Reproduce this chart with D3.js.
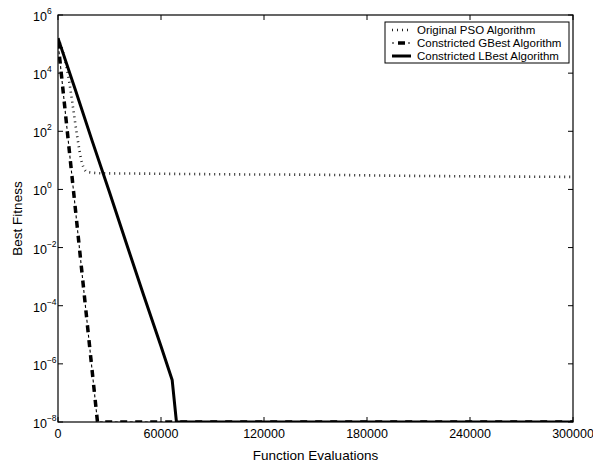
<!DOCTYPE html>
<html>
<head>
<meta charset="utf-8">
<script src="https://cdn.jsdelivr.net/npm/d3@7"></script>
<style>
  body { margin: 0; background: #fff; }
  svg { font-family: "Liberation Sans", Arial, Helvetica, sans-serif; }
</style>
</head>
<body>
<script>
// values
var psoX = [0, 3000, 6000, 8700, 11000, 14000, 17000, 25000, 50000, 100000, 150000, 200000, 250000, 300000];
var psoY = [158000, 50000, 7900, 690, 79, 8.1, 4.0, 3.6, 3.5, 3.3, 3.2, 2.95, 2.8, 2.7];

var gbestX = [0, 5000, 10000, 15000, 20000, 23000, 300000];
var gbestY = [1.2e5, 170, 0.25, 3.5e-4, 5e-7, 1e-8, 1e-8];

var lbestX = [0, 10000, 20000, 30000, 40000, 50000, 60000, 66500, 69000, 300000];
var lbestY = [1.6e5, 2800, 45, 0.8, 0.013, 2.2e-4, 4e-6, 2.8e-7, 1e-8, 1e-8];

var xTicks = [0, 60000, 120000, 180000, 240000, 300000];
var yExps = [6, 4, 2, 0, -2, -4, -6, -8];
var legendNames = ["Original PSO Algorithm", "Constricted GBest Algorithm", "Constricted LBest Algorithm"];

var W = 593, H = 470;
var margin = { top: 15, right: 20, bottom: 48, left: 58 };
var width = W - margin.left - margin.right;
var height = H - margin.top - margin.bottom;

var svg = d3.select("body").append("svg")
    .attr("width", W)
    .attr("height", H);

var g = svg.append("g")
    .attr("transform", "translate(" + margin.left + "," + margin.top + ")");

var x = d3.scaleLinear().domain([0, 300000]).range([0, width]);
var y = d3.scaleLog().domain([1e-8, 1e6]).range([height, 0]);

g.append("clipPath").attr("id", "clip")
    .append("rect").attr("width", width).attr("height", height);

// lines
var line = d3.line()
    .x(function (d) { return x(d[0]); })
    .y(function (d) { return y(d[1]); });

var plot = g.append("g").attr("clip-path", "url(#clip)");

plot.append("path")
    .datum(d3.zip(psoX, psoY))
    .attr("d", line.curve(d3.curveMonotoneX))
    .attr("fill", "none")
    .attr("stroke", "#222")
    .attr("stroke-width", 2.6)
    .attr("stroke-dasharray", "1,4");

line.curve(d3.curveLinear);
var gb = d3.zip(gbestX, gbestY);
plot.append("path")
    .datum(gb)
    .attr("d", line)
    .attr("fill", "none")
    .attr("stroke", "#000")
    .attr("stroke-width", 3.5)
    .attr("stroke-dasharray", "7,8");
plot.append("path")
    .datum(gb)
    .attr("d", line)
    .attr("fill", "none")
    .attr("stroke", "#000")
    .attr("stroke-width", 1.1)
    .attr("stroke-dasharray", "0,9.5,3,2.5");

plot.append("path")
    .datum(d3.zip(lbestX, lbestY))
    .attr("d", line)
    .attr("fill", "none")
    .attr("stroke", "#000")
    .attr("stroke-width", 3)
    .attr("stroke-linejoin", "round");

// axes, ticks inside on all four sides
var tickLen = 5;
var ticks = g.append("g").attr("stroke", "#000").attr("stroke-width", 1);
xTicks.forEach(function (t) {
    ticks.append("line").attr("x1", x(t)).attr("x2", x(t)).attr("y1", height).attr("y2", height - tickLen);
    ticks.append("line").attr("x1", x(t)).attr("x2", x(t)).attr("y1", 0).attr("y2", tickLen);
});
yExps.forEach(function (e) {
    var v = Math.pow(10, e);
    ticks.append("line").attr("x1", 0).attr("x2", tickLen).attr("y1", y(v)).attr("y2", y(v));
    ticks.append("line").attr("x1", width).attr("x2", width - tickLen).attr("y1", y(v)).attr("y2", y(v));
});

g.append("rect")
    .attr("width", width)
    .attr("height", height)
    .attr("fill", "none")
    .attr("stroke", "#000")
    .attr("stroke-width", 1.2);

// tick labels
g.selectAll("text.xt")
    .data(xTicks)
    .enter()
    .append("text")
    .attr("class", "xt")
    .attr("x", function (d) { return x(d); })
    .attr("y", height + 16)
    .attr("text-anchor", "middle")
    .attr("font-size", 12.5)
    .text(function (d) { return d; });

var yl = g.selectAll("text.yt")
    .data(yExps)
    .enter()
    .append("text")
    .attr("class", "yt")
    .attr("x", -25)
    .attr("y", function (d) { return y(Math.pow(10, d)) + 6; })
    .attr("font-size", 12.5);
yl.append("tspan").text("10");
yl.append("tspan")
    .attr("dy", -7)
    .attr("font-size", 8.5)
    .text(function (d) { return d < 0 ? "\u2212" + (-d) : d; });

// axis titles
svg.append("text")
    .attr("x", margin.left + width / 2)
    .attr("y", 460)
    .attr("text-anchor", "middle")
    .attr("font-size", 13.5)
    .text("Function Evaluations");

svg.append("text")
    .attr("transform", "translate(22," + (margin.top + height / 2) + ") rotate(-90)")
    .attr("text-anchor", "middle")
    .attr("font-size", 13.5)
    .text("Best Fitness");

// legend
var legend = g.append("g").attr("transform", "translate(" + (385 - margin.left) + "," + (22 - margin.top) + ")");
legend.append("rect")
    .attr("width", 184)
    .attr("height", 41)
    .attr("fill", "#fff")
    .attr("stroke", "#000")
    .attr("stroke-width", 1);

var styles = [
    [{ w: 2.6, dash: "1,4", c: "#222" }],
    [{ w: 3.5, dash: "0,6,7,20", c: "#000" }, { w: 1.1, dash: "2,14,2,20", c: "#000" }],
    [{ w: 3, dash: null, c: "#000" }]
];
legendNames.forEach(function (name, i) {
    var ly = 8 + i * 13;
    styles[i].forEach(function (s) {
        legend.append("line")
            .attr("x1", 7).attr("x2", 26)
            .attr("y1", ly).attr("y2", ly)
            .attr("stroke", s.c)
            .attr("stroke-width", s.w)
            .attr("stroke-dasharray", s.dash);
    });
    legend.append("text")
        .attr("x", 32)
        .attr("y", ly + 4)
        .attr("font-size", 11.5)
        .text(name);
});
</script>
</body>
</html>
